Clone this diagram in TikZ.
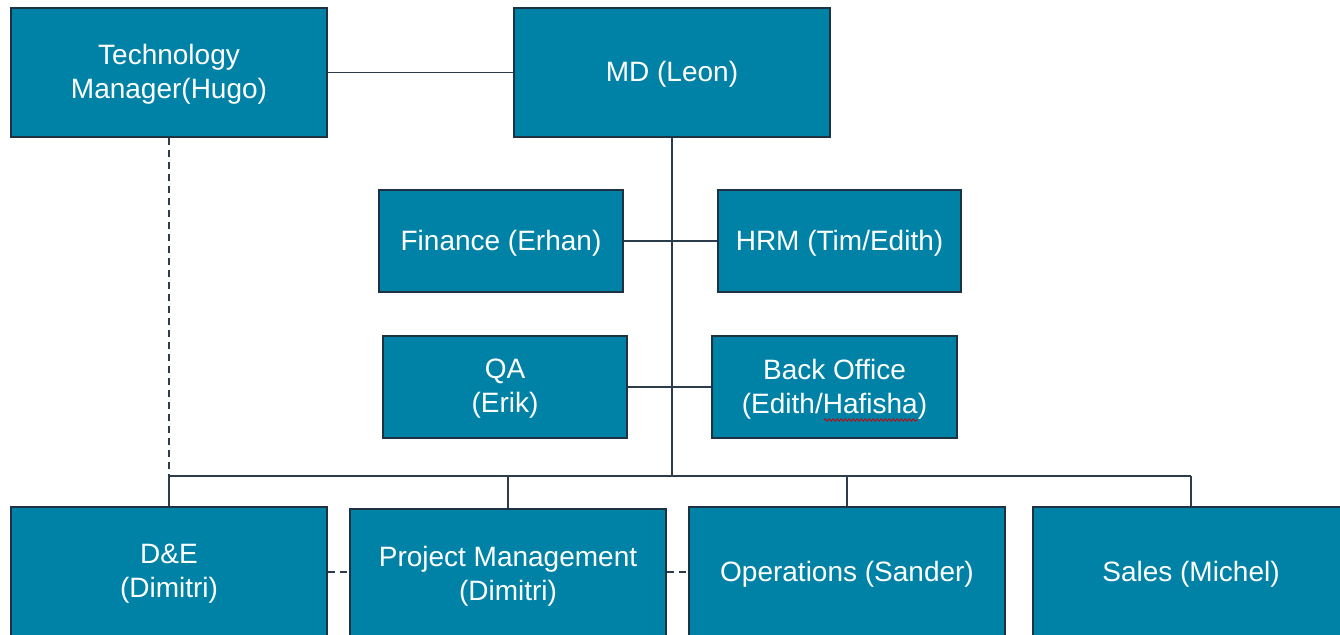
\documentclass[tikz,border=0pt]{standalone}
\usepackage{fontspec}
\setmainfont{Liberation Sans}
\usetikzlibrary{decorations.pathmorphing}
\definecolor{boxfill}{RGB}{0,130,166}
\definecolor{boxline}{RGB}{30,50,66}
\definecolor{conn}{RGB}{45,60,75}
\tikzset{
  unit/.style={draw=boxline, line width=1.5pt, fill=boxfill, text=white, align=center,
    inner sep=0pt, font=\fontsize{28}{34}\selectfont, text depth=2pt},
  link/.style={draw=conn, line width=1.5pt},
  dlink/.style={link, dash pattern=on 7pt off 5pt},
}
\begin{document}
\begin{tikzpicture}[x=1pt,y=-1pt]
\useasboundingbox (0,0) rectangle (1340,634);
\clip (0,0) rectangle (1340,634);
\fill[white] (0,0) rectangle (1340,634);
% top row
\node[unit, minimum width=316, minimum height=129] (tech) at (169,72.5) {Technology\\Manager(Hugo)};
\node[unit, minimum width=316, minimum height=129] (md) at (672,72.5) {MD (Leon)};
% staff
\node[unit, minimum width=244, minimum height=102] (fin) at (501,241) {Finance (Erhan)};
\node[unit, minimum width=243, minimum height=102] (hrm) at (839.5,241) {HRM (Tim/Edith)};
\node[unit, minimum width=244, minimum height=102] (qa) at (505,387) {QA\\(Erik)};
\node[unit, minimum width=245, minimum height=102] (bo) at (834.5,387) {Back Office\\(Edith/Hafisha)};
% bottom row
\node[unit, minimum width=316, minimum height=130] (de) at (169,572) {D\&E\\(Dimitri)};
\node[unit, minimum width=316, minimum height=130] (pm) at (508,574) {Project Management\\(Dimitri)};
\node[unit, minimum width=316, minimum height=130] (ops) at (847,572) {Operations (Sander)};
\node[unit, minimum width=316, minimum height=130] (sales) at (1191,572) {Sales (Michel)};
% bus
\coordinate (busL) at (169,476);
\coordinate (busR) at (1191,476);
\coordinate (busM) at (672,476);
% connectors
\draw[link] (tech.east) -- (md.west);
\draw[link] (md.south) -- (busM);
\draw[link] (fin.east) -- (hrm.west);
\draw[link] (qa.east) -- (bo.west);
\draw[link] (busL) -- (busR);
\draw[link] (busL) -- (de.north);
\draw[link] (busL -| pm.north) -- (pm.north);
\draw[link] (busL -| ops.north) -- (ops.north);
\draw[link] (busR) -- (sales.north);
\draw[dlink] (tech.south) -- (busL);
\draw[dlink] (de.east) -- (de.east -| pm.west);
\draw[dlink] (pm.east |- ops.west) -- (ops.west);
% spell-check squiggle under Hafisha
\draw[red!80!black, line width=0.8pt, decoration={snake, amplitude=1.2pt, segment length=4pt}, decorate] (824,420) -- (918,420);
\end{tikzpicture}
\end{document}
